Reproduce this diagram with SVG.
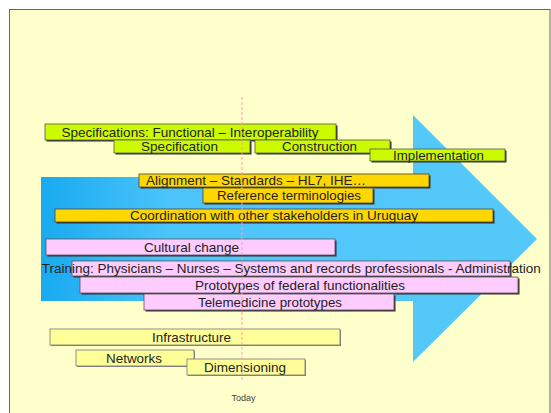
<svg xmlns="http://www.w3.org/2000/svg" width="551" height="413" viewBox="0 0 551 413">
<defs>
<linearGradient id="bodyGrad" x1="0" y1="0" x2="1" y2="0">
<stop offset="0" stop-color="#18aaf0"/>
<stop offset="0.35" stop-color="#4cc4fa"/>
<stop offset="1" stop-color="#55c8fa"/>
</linearGradient>
</defs>
<style>
.sh{fill:#333333}
.lime{fill:#ccfb00;stroke:#555;stroke-width:0.8}
.gold{fill:#ffd700;stroke:#444;stroke-width:0.8}
.pink{fill:#ffccff;stroke:#555;stroke-width:0.8}
.pale{fill:#ffff99;stroke:#777;stroke-width:0.8}
.shp{fill:#888888}
text{font-family:"Liberation Sans",Arial,sans-serif;font-size:13.5px;fill:#222222;text-anchor:middle}
.today{font-size:9px;fill:#444}
</style>
<rect x="0" y="0" width="551" height="413" fill="#ffffff"/>
<rect x="9.5" y="9.5" width="540.5" height="410" fill="#ffffcc" stroke="#666" stroke-width="1"/>
<g id="arrow">
<rect x="41" y="177" width="373" height="124" fill="url(#bodyGrad)"/>
<polygon points="413,115 537,239 413,362" fill="#55c8fa"/>
</g>
<g id="spec-functional">
<rect class="sh" x="46.5" y="125.5" width="291" height="16"/>
<rect class="lime" x="45" y="124" width="291" height="16"/>
<text x="190" y="137" textLength="257" lengthAdjust="spacingAndGlyphs">Specifications: Functional – Interoperability</text>
</g>
<g id="specification">
<rect class="sh" x="115.5" y="141.5" width="136" height="13"/>
<rect class="lime" x="114" y="140" width="136" height="13"/>
<text x="179.5" y="151" textLength="77" lengthAdjust="spacingAndGlyphs">Specification</text>
</g>
<g id="construction">
<rect class="sh" x="256.5" y="141.5" width="135" height="13"/>
<rect class="lime" x="255" y="140" width="135" height="13"/>
<text x="319.5" y="151" textLength="75" lengthAdjust="spacingAndGlyphs">Construction</text>
</g>
<g id="implementation">
<rect class="sh" x="371.5" y="150.5" width="135" height="12"/>
<rect class="lime" x="370" y="149" width="135" height="12"/>
<text x="438.5" y="159.5" textLength="91" lengthAdjust="spacingAndGlyphs">Implementation</text>
</g>
<g id="alignment">
<rect class="sh" x="140.5" y="175.5" width="290" height="13"/>
<rect class="gold" x="139" y="174" width="290" height="13"/>
<text x="256" y="185" textLength="220" lengthAdjust="spacingAndGlyphs">Alignment – Standards – HL7, IHE…</text>
</g>
<g id="reference-terminologies">
<rect class="sh" x="204.5" y="189.5" width="170" height="15"/>
<rect class="gold" x="203" y="188" width="170" height="15"/>
<text x="289" y="199.5" textLength="144" lengthAdjust="spacingAndGlyphs">Reference terminologies</text>
</g>
<g id="coordination">
<rect class="sh" x="56.5" y="210.5" width="438" height="13"/>
<rect class="gold" x="55" y="209" width="438" height="13"/>
<text x="274" y="220" textLength="288" lengthAdjust="spacingAndGlyphs">Coordination with other stakeholders in Uruguay</text>
</g>
<g id="cultural-change">
<rect class="sh" x="47.5" y="240.5" width="289" height="16"/>
<rect class="pink" x="46" y="239" width="289" height="16"/>
<text x="191.5" y="251.5" textLength="95" lengthAdjust="spacingAndGlyphs">Cultural change</text>
</g>
<g id="training">
<rect class="sh" x="73.5" y="262.5" width="438" height="15"/>
<rect class="pink" x="72" y="261" width="438" height="15"/>
<text x="291.3" y="273.3" textLength="499" lengthAdjust="spacingAndGlyphs">Training: Physicians – Nurses – Systems and records professionals - Administration</text>
</g>
<g id="prototypes-federal">
<rect class="sh" x="81.5" y="278.5" width="438" height="16"/>
<rect class="pink" x="80" y="277" width="438" height="16"/>
<text x="300" y="290" textLength="210" lengthAdjust="spacingAndGlyphs">Prototypes of federal functionalities</text>
</g>
<g id="telemedicine">
<rect class="sh" x="145.5" y="295.5" width="250" height="16"/>
<rect class="pink" x="144" y="294" width="250" height="16"/>
<text x="270" y="306.7" textLength="144" lengthAdjust="spacingAndGlyphs">Telemedicine prototypes</text>
</g>
<g id="infrastructure">
<rect class="shp" x="51" y="330" width="290" height="16"/>
<rect class="pale" x="50" y="329" width="290" height="16"/>
<text x="191.5" y="341.7" textLength="79" lengthAdjust="spacingAndGlyphs">Infrastructure</text>
</g>
<g id="networks">
<rect class="shp" x="77" y="351" width="118" height="16"/>
<rect class="pale" x="76" y="350" width="118" height="16"/>
<text x="134" y="363.3" textLength="56" lengthAdjust="spacingAndGlyphs">Networks</text>
</g>
<g id="dimensioning">
<rect class="shp" x="188" y="360" width="118" height="16"/>
<rect class="pale" x="187" y="359" width="118" height="16"/>
<text x="245" y="372.3" textLength="82" lengthAdjust="spacingAndGlyphs">Dimensioning</text>
</g>
<g id="today">
<line x1="242" y1="97" x2="242" y2="380" stroke="#ffa0aa" stroke-width="1" stroke-dasharray="3,2"/>
<text class="today" x="243.5" y="401">Today</text>
</g>
</svg>
